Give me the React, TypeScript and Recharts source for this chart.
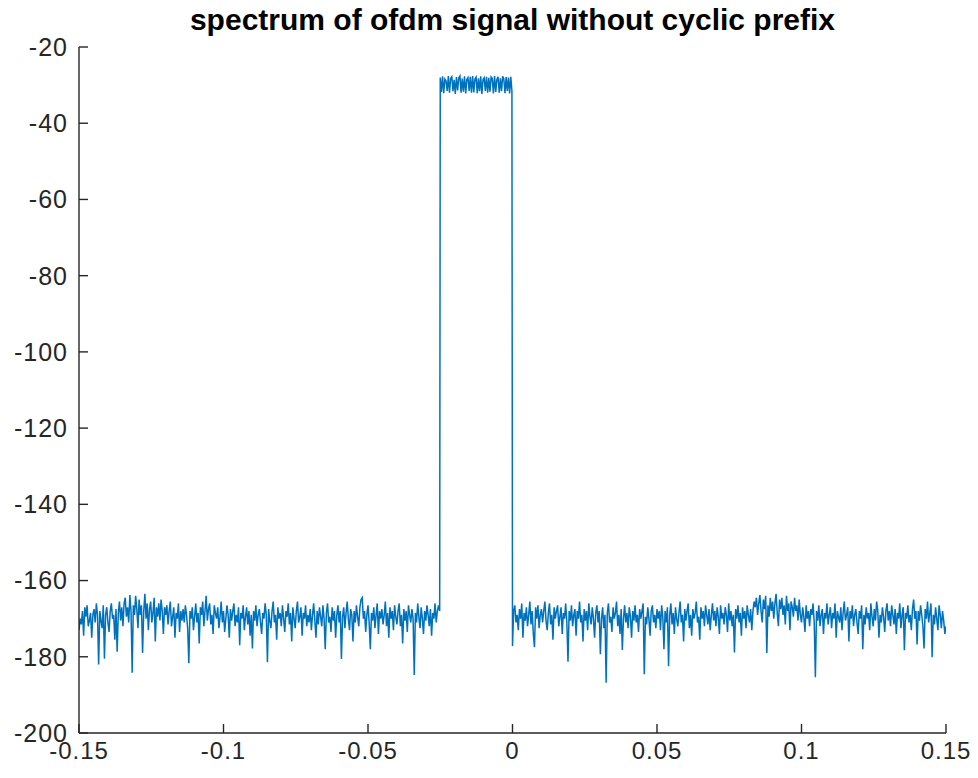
import React from "react";
import { LineChart, Line, XAxis, YAxis } from "recharts";

// Frequency grid (normalized frequency bins)
const FREQ_STEP = 0.0004;
const LEFT_START = -0.15;
const BAND_START = -0.025;
const RIGHT_START = 0;

// Noise floor left of the occupied band (dB)
const leftNoise: number[] = [
  -173, -170, -171.5, -168, -174.5, -167, -169.5, -166.5, -172, -170.5, -168.5, -175, -169, -167.5, -171, -166, -169, -182, -168, -170.5, -172.5, -166.5, -180.5, -169, -167,
  -171, -173.5, -168, -166, -170, -169, -175.5, -167.5, -178.7, -168.5, -165.5, -170.5, -167, -172, -166, -164.5, -169.5, -167, -171, -163.8, -168, -184.2, -166.5, -169, -164,
  -167.5, -172.5, -165, -169, -166.5, -179, -168, -163.5, -170, -166, -173, -167.5, -165.5, -171, -168.5, -164.5, -176, -167, -169.5, -166, -170.5, -165, -168, -174, -167,
  -169, -166.5, -171.5, -168, -165.5, -172, -169.5, -167, -175, -168.5, -170, -166, -173.5, -168, -170.5, -167.5, -171, -166.5, -169, -172.5, -181.7, -168, -170, -167, -173,
  -169.5, -166, -171, -168.5, -176.5, -167, -169, -165.5, -172, -168, -164, -170.5, -167.5, -166, -171.5, -169, -174, -166.5, -168.5, -170, -167, -172.5, -169.5, -165.5, -171,
  -168, -173.5, -170, -166.5, -169, -175, -167.5, -170.5, -168, -166, -172, -169, -171, -167, -177, -168.5, -170, -166.5, -173, -169.5, -167, -171.5, -168, -174.5, -169,
  -177.8, -168, -170.5, -166.5, -172, -169, -167.5, -171, -174, -168.5, -170, -166, -169, -181.4, -167.5, -170.5, -172.5, -168, -165.5, -171, -169, -175.5, -167, -170, -168.5,
  -172, -166.5, -170, -173.5, -168, -169.5, -166, -171.5, -168.5, -176, -167, -170, -172.5, -168, -165.5, -171, -169.5, -167, -174.5, -168.5, -170, -166.5, -172, -169, -171,
  -167.5, -173, -169, -166, -170.5, -175, -168, -171.5, -167, -169.5, -172, -166.5, -170, -178, -168.5, -166, -171, -169.5, -173.5, -167, -170.5, -168, -175, -169, -166.5,
  -171, -168, -180.6, -169.5, -167, -172.5, -168.5, -165.5, -170, -173, -167.5, -169, -176, -168, -171, -166.5, -169.5, -172, -167, -165, -164.5, -170, -168, -173.5, -169,
  -166.5, -171, -178, -168.5, -170.5, -167, -172.5, -169, -166, -174, -168, -170, -167.5, -171.5, -169, -165.5, -172, -168.5, -175, -167, -170, -168, -173, -166.5, -169.5,
  -171.5, -168, -166, -172, -169, -176.5, -167.5, -170.5, -168, -173.5, -166.5, -169, -171, -167.5, -170, -184.8, -168.5, -171, -166, -169.5, -172.5, -167, -170, -174, -168,
  -170.5, -166.5, -169, -172, -167.5, -174.5, -168.5, -170, -166, -171, -168, -166.5, -168,
];

// Occupied band (dB)
const bandLevels: number[] = [
  -28, -31.8, -27.7, -32.1, -28.4, -28.9, -31.5, -27.6, -32, -28.2,
  -27.8, -31.6, -28.6, -32.3, -27.9, -31.4, -28.1, -27.6, -32, -28.3,
  -31.7, -27.7, -32.2, -28.5, -28, -31.5, -27.8, -32, -27.6, -31.9,
  -28.4, -27.9, -32.1, -28.2, -31.6, -27.7, -32.3, -28.6, -28.1, -31.5,
  -27.8, -32, -28.1, -31.7, -27.9, -28.3, -32.2, -27.6, -31.8, -28.5,
  -27.8, -32, -28.2, -31.6, -27.7, -28.4, -32.1, -27.9, -31.5, -28,
  -32.2, -27.8, -31.6,
];

// Noise floor right of the occupied band (dB)
const rightNoise: number[] = [
  -177.2, -168, -166.5, -171, -169, -173, -167.5, -170, -166, -175, -168.5, -170.5, -167, -172, -169, -165.5, -171.5, -168, -174, -177.5, -167, -170, -166.5, -172.5, -169,
  -167.5, -171, -168, -165.5, -170.5, -173, -168.5, -166, -171.5, -169, -175.5, -167, -170, -168, -166.5, -172, -169.5, -167, -174, -168.5, -170, -166, -171, -181.3, -168,
  -170.5, -166.5, -172, -169, -167.5, -174.5, -168, -170, -165.5, -171, -169, -176, -167.5, -170.5, -168, -173, -166, -169.5, -171.5, -167, -170, -175, -168.5, -166.5, -171,
  -168, -179.3, -170, -167, -172.5, -169, -186.8, -168.5, -166, -171, -169.5, -173.5, -167, -170, -168.5, -165.5, -172, -169, -174, -167.5, -178.2, -170, -166.5, -171, -168.5,
  -172.5, -167, -169.5, -175, -168, -170.5, -166.5, -171, -169, -173.5, -167.5, -170, -168, -166, -184.6, -169.5, -171.5, -167, -170, -174.5, -168, -166.5, -171, -169, -172.5,
  -167.5, -170, -168, -173, -166.5, -169.5, -178, -168, -171, -167, -182.5, -169, -166, -171.5, -168.5, -174, -167, -170, -172, -168.5, -165.5, -171, -169, -176, -167.5,
  -170.5, -168, -166, -172.5, -169, -174.5, -167.5, -170, -168.5, -165.5, -171, -169.5, -175.5, -167, -170, -168, -172, -166.5, -169, -171.5, -167.5, -173, -169, -166, -170.5,
  -168, -172, -167, -169.5, -174, -166.5, -170, -168.5, -171.5, -167, -169, -173.5, -166, -170.5, -168, -172, -169, -178.9, -167.5, -170, -166.5, -171, -168.5, -174.5, -167,
  -170, -168, -172.5, -166.5, -169, -171, -167.5, -173, -168, -165.5, -167, -164.5, -169, -166, -163.8, -168, -171, -165, -167.5, -164, -179, -166.5, -169.5, -164.5, -168,
  -165.5, -170, -166, -163.5, -168.5, -172, -165, -167.5, -164.5, -169, -166.5, -171.5, -164, -168, -166, -173, -165.5, -167, -169.5, -164.5, -168, -166.5, -170.5, -165, -169,
  -171, -167, -169.5, -173.5, -166.5, -170, -168, -172, -167.5, -169, -166, -171, -185.4, -168, -170.5, -166.5, -172, -169, -167.5, -174, -168.5, -170, -166, -171.5, -169,
  -167, -172.5, -168.5, -170, -166, -175, -168, -169.5, -171, -167, -173, -168.5, -165.5, -170.5, -169, -167, -176, -168, -170, -166.5, -172, -169, -167.5, -171, -174,
  -168, -170, -166.5, -178, -169, -171.5, -167, -170, -168.5, -173, -166, -169.5, -172, -167.5, -170.5, -165.5, -168, -175, -169, -171, -167, -169.5, -173.5, -168, -166,
  -170.5, -168, -172, -166.5, -169, -171.5, -167.5, -174, -168.5, -170, -166, -172.5, -169, -167, -178.3, -168.5, -170, -166.5, -171, -169, -173, -167.5, -165, -170, -168,
  -176.8, -168, -170.5, -166.5, -169, -172, -177.8, -167.5, -170, -165.5, -171, -168.5, -166, -180.1, -169, -171.5, -167, -170, -173, -166.5, -169, -172.5, -168, -170.5, -174,
  -172,
];

const xTicks = [-0.15, -0.1, -0.05, 0, 0.05, 0.1, 0.15];
const yTicks = [-200, -180, -160, -140, -120, -100, -80, -60, -40, -20];
const titleText = "spectrum of ofdm signal without cyclic prefix";

const toPoints = (start: number, vals: number[]) =>
  vals.map((v, i) => ({ f: Math.round((start + i * FREQ_STEP) * 1e6) / 1e6, p: v }));

const data = [
  ...toPoints(LEFT_START, leftNoise),
  ...toPoints(BAND_START, bandLevels),
  ...toPoints(RIGHT_START, rightNoise),
];

const AXIS = "#262626";
const FONT = "'Liberation Sans', Arial, Helvetica, sans-serif";
const xTickStyle = { fill: AXIS, fontSize: 24, fontFamily: FONT, letterSpacing: 1 };
const yTickStyle = { fill: AXIS, fontSize: 25, fontFamily: FONT, letterSpacing: 1 };

export default function App() {
  return (
    <div style={{ position: "relative", width: 962, height: 762 }}>
      <div
        style={{
          position: "absolute",
          left: 0,
          top: -5,
          width: 1009,
          textAlign: "center",
          fontFamily: FONT,
          fontWeight: "bold",
          fontSize: 30,
          color: "#000",
          whiteSpace: "nowrap",
          zIndex: 2,
        }}
      >
        {titleText}
      </div>
      <LineChart
        width={962}
        height={762}
        data={data}
        margin={{ top: 39, right: 24, bottom: 2, left: 6 }}
      >
        <XAxis
          xAxisId="bottom"
          dataKey="f"
          type="number"
          domain={[-0.15, 0.15]}
          ticks={xTicks}
          allowDataOverflow
          height={35}
          stroke={AXIS}
          strokeWidth={1.4}
          tickSize={-9}
          tickMargin={18}
          tick={xTickStyle}
          tickFormatter={(v: number) => String(v)}
          interval={0}
        />
        <XAxis
          xAxisId="top"
          orientation="top"
          dataKey="f"
          type="number"
          domain={[-0.15, 0.15]}
          ticks={xTicks}
          allowDataOverflow
          height={0}
          stroke={AXIS}
          strokeWidth={1.4}
          tickSize={-9}
          tick={false}
          interval={0}
        />
        <YAxis
          yAxisId="left"
          type="number"
          domain={[-200, -20]}
          ticks={yTicks}
          allowDataOverflow
          width={65}
          stroke={AXIS}
          strokeWidth={1.4}
          tickSize={-9}
          tickMargin={20}
          tick={yTickStyle}
          interval={0}
        />
        <YAxis
          yAxisId="right"
          orientation="right"
          type="number"
          domain={[-200, -20]}
          ticks={yTicks}
          allowDataOverflow
          width={0}
          stroke={AXIS}
          strokeWidth={1.4}
          tickSize={-9}
          tick={false}
          interval={0}
        />
        <Line
          xAxisId="bottom"
          yAxisId="left"
          dataKey="p"
          type="linear"
          stroke="#0072BD"
          strokeWidth={1.5}
          dot={false}
          isAnimationActive={false}
        />
      </LineChart>
    </div>
  );
}
